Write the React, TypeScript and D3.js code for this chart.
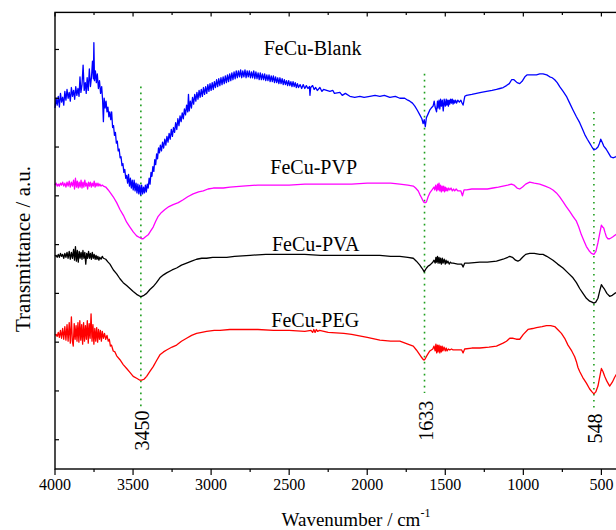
import React from 'react';
import * as d3 from 'd3';

type Pt = [number, number];

// Wavenumber (cm-1), transmittance (a.u., offset traces)
const blank: Pt[] = [[4000,340],[3993,350],[3986,343],[3979,352],[3972,341],[3965,355],[3958,346],[3951,351],[3944,343],[3937,357],[3930,348],[3923,359],[3916,350],[3909,356],[3902,347],[3895,361],[3888,352],[3881,358],[3874,349],[3867,362],[3860,353],[3853,360],[3846,352],[3840,372],[3834,356],[3827,364],[3820,384],[3813,358],[3806,366],[3800,355],[3794,371],[3787,358],[3780,380],[3773,362],[3766,372],[3760,388],[3754,370],[3751,407],[3747,368],[3741,378],[3735,366],[3729,375],[3722,360],[3715,368],[3708,355],[3701,362],[3695,348],[3690,326],[3685,350],[3679,340],[3673,347],[3667,336],[3661,341],[3655,331],[3649,336],[3643,328],[3637,336],[3631,320],[3625,322],[3619,312],[3613,315],[3607,304],[3601,306],[3595,296],[3589,298],[3583,289],[3577,290],[3571,281],[3565,283],[3559,274],[3553,277],[3547,268],[3541,271],[3535,263],[3529,272],[3523,260],[3517,268],[3511,258],[3505,266],[3499,256],[3493,266],[3487,255],[3481,263],[3475,253],[3469,262],[3463,252],[3457,261],[3451,251],[3445,261],[3439,252],[3433,259],[3427,253],[3421,261],[3415,254],[3409,262],[3403,258],[3397,268],[3391,262],[3385,274],[3379,270],[3373,280],[3367,275],[3361,287],[3355,282],[3349,293],[3343,288],[3337,299],[3331,294],[3325,302],[3318,296],[3311,305],[3304,299],[3297,308],[3290,302],[3283,311],[3276,305],[3269,314],[3262,308],[3255,318],[3248,311],[3241,320],[3234,315],[3227,325],[3220,318],[3213,329],[3206,322],[3199,332],[3192,326],[3185,335],[3178,329],[3171,339],[3164,333],[3157,343],[3150,336],[3145,354],[3140,337],[3133,347],[3126,340],[3119,351],[3112,344],[3105,354],[3098,347],[3091,356],[3084,349],[3077,358],[3070,351],[3063,359],[3056,352],[3049,361],[3042,354],[3035,362],[3028,355],[3021,364],[3014,357],[3007,365],[3000,358],[2993,366],[2986,359],[2979,367],[2972,361],[2965,369],[2958,362],[2951,370],[2944,363],[2937,371],[2930,364],[2923,372],[2916,365],[2909,373],[2902,366],[2895,374],[2888,367],[2881,375],[2874,368],[2867,376],[2860,369],[2853,377],[2846,370],[2839,378],[2832,371],[2825,378],[2818,372],[2811,379],[2804,371],[2797,378],[2790,372],[2783,379],[2776,371],[2769,378],[2762,372],[2755,378],[2748,371],[2741,377],[2734,371],[2727,378],[2720,370],[2713,377],[2706,370],[2699,376],[2692,369],[2685,376],[2678,369],[2671,375],[2664,369],[2657,375],[2650,368],[2643,374],[2636,368],[2629,374],[2622,367],[2615,373],[2608,367],[2601,373],[2594,366],[2587,372],[2580,366],[2573,371],[2566,365],[2559,371],[2552,365],[2545,370],[2538,364],[2531,369],[2524,364],[2517,368],[2510,363],[2503,368],[2496,363],[2489,367],[2482,362],[2475,367],[2468,362],[2461,366],[2454,361],[2447,365],[2440,361],[2430,364],[2420,360],[2410,364],[2400,360],[2390,363],[2380,360],[2370,362],[2367,353],[2362,361],[2350,363],[2340,359],[2330,361],[2320,358],[2303,361],[2290,357],[2280,359],[2260,358],[2239,357],[2220,358],[2210,355],[2175,356],[2160,353],[2140,355],[2111,352],[2080,351],[2047,352],[2020,351],[1983,352],[1950,353],[1919,352],[1890,353],[1855,351],[1820,352],[1791,350],[1760,350],[1740,348],[1727,347],[1710,345],[1695,342],[1680,338],[1663,333],[1650,329],[1642,324],[1635,328],[1628,321],[1621,330],[1610,334],[1599,338],[1590,340],[1578,342],[1571,347],[1565,341],[1556,336],[1550,347],[1546,340],[1540,348],[1535,339],[1530,349],[1525,342],[1519,348],[1513,337],[1507,349],[1500,342],[1494,349],[1490,343],[1484,348],[1480,342],[1475,348],[1471,344],[1465,349],[1460,345],[1455,349],[1450,344],[1445,348],[1440,345],[1434,348],[1428,345],[1420,348],[1410,346],[1400,348],[1395,346],[1386,343],[1375,352],[1364,353],[1330,354],[1300,355],[1270,356],[1236,357],[1200,358],[1172,359],[1150,360],[1129,361],[1108,363],[1090,365],[1075,369],[1060,369],[1040,366],[1023,365],[1005,368],[990,372],[975,374],[959,374],[940,374],[916,374],[895,375],[874,375],[850,374],[831,372],[815,371],[799,369],[783,366],[767,362],[745,357],[724,352],[703,345],[682,338],[660,331],[639,325],[620,318],[607,313],[590,308],[575,304],[560,300],[548,297],[535,298],[522,300],[512,304],[504,308],[495,305],[485,301],[470,298],[455,294],[440,290],[426,289],[409,290],[400,291]];

const pvp: Pt[] = [[4000,261],[3993,263],[3986,260],[3979,262],[3972,260],[3965,263],[3958,261],[3951,264],[3944,260],[3937,263],[3930,259],[3923,264],[3916,260],[3909,265],[3902,259],[3895,264],[3888,260],[3881,266],[3875,257],[3869,268],[3863,259],[3857,265],[3851,258],[3845,264],[3839,259],[3833,266],[3827,258],[3821,264],[3815,259],[3809,266],[3803,260],[3797,263],[3791,257],[3785,264],[3779,260],[3773,264],[3767,259],[3761,263],[3755,260],[3749,265],[3743,259],[3737,263],[3731,260],[3725,263],[3719,260],[3713,262],[3705,260],[3697,261],[3690,260],[3675,259],[3659,256],[3645,253],[3627,249],[3605,243],[3584,236],[3562,230],[3541,223],[3520,218],[3499,213],[3477,209],[3456,207],[3445,206],[3435,206],[3420,208],[3403,210],[3387,214],[3371,218],[3355,224],[3339,229],[3318,233],[3296,236],[3270,239],[3243,241],[3210,243],[3179,246],[3150,249],[3115,252],[3080,254],[3050,255],[3020,257],[2986,258],[2950,258],[2922,258],[2879,259],[2800,260],[2700,261],[2591,261],[2500,261],[2400,262],[2300,262],[2200,262],[2100,262],[2000,263],[1919,263],[1850,263],[1791,262],[1740,261],[1705,260],[1690,258],[1673,255],[1662,251],[1652,248],[1643,245],[1635,243],[1627,243],[1620,244],[1610,249],[1599,253],[1585,256],[1572,259],[1567,256],[1561,261],[1555,255],[1549,262],[1545,256],[1540,263],[1535,255],[1530,261],[1525,254],[1520,260],[1515,255],[1510,260],[1505,254],[1500,259],[1495,255],[1490,258],[1485,255],[1478,258],[1471,256],[1463,258],[1455,255],[1447,257],[1440,255],[1430,257],[1420,255],[1400,255],[1390,250],[1380,256],[1364,256],[1330,257],[1279,257],[1230,257],[1194,258],[1160,259],[1130,260],[1100,261],[1076,262],[1060,261],[1040,258],[1023,257],[1005,259],[985,262],[959,264],[930,263],[895,262],[860,260],[831,258],[810,256],[788,253],[767,249],[746,244],[725,239],[703,234],[682,229],[660,224],[645,218],[628,210],[612,204],[596,198],[580,194],[564,191],[548,190],[535,193],[522,202],[510,212],[500,220],[492,218],[485,217],[476,212],[468,208],[458,206],[447,206],[436,207],[426,208],[409,210],[400,211]];

const pva: Pt[] = [[4000,188],[3993,189],[3986,187],[3979,190],[3972,187],[3965,191],[3958,188],[3951,190],[3944,186],[3937,191],[3930,187],[3923,192],[3916,186],[3909,193],[3902,185],[3895,192],[3888,186],[3881,195],[3875,184],[3869,198],[3863,183],[3857,194],[3851,182],[3845,193],[3839,186],[3833,192],[3827,185],[3821,194],[3815,186],[3809,192],[3803,180],[3797,191],[3791,186],[3785,193],[3779,186],[3773,191],[3767,185],[3761,192],[3755,186],[3749,190],[3743,185],[3737,189],[3731,185],[3725,188],[3719,184],[3713,187],[3705,185],[3697,188],[3690,186],[3675,185],[3660,182],[3648,180],[3626,174],[3605,170],[3584,165],[3563,161],[3541,158],[3520,155],[3499,152],[3477,149],[3456,147],[3445,147],[3430,148],[3413,150],[3392,154],[3371,157],[3350,161],[3328,166],[3305,169],[3285,171],[3250,174],[3221,176],[3190,179],[3157,181],[3125,183],[3093,185],[3060,186],[3029,186],[2990,187],[2950,187],[2900,187],[2850,188],[2750,189],[2650,190],[2600,190],[2500,190],[2400,190],[2300,189],[2200,189],[2100,189],[2000,189],[1919,189],[1850,188],[1791,188],[1740,187],[1705,186],[1685,183],[1663,179],[1650,176],[1642,174],[1635,172],[1628,174],[1620,176],[1610,178],[1599,179],[1580,182],[1572,184],[1565,181],[1560,187],[1556,182],[1550,188],[1546,181],[1540,187],[1535,181],[1530,186],[1525,180],[1519,186],[1514,181],[1507,185],[1500,180],[1495,184],[1490,181],[1483,183],[1475,180],[1467,182],[1460,181],[1450,181],[1420,180],[1395,180],[1386,177],[1376,181],[1350,181],[1279,182],[1230,182],[1172,183],[1130,185],[1100,187],[1087,188],[1070,187],[1050,184],[1035,183],[1023,184],[1005,187],[985,190],[959,191],[930,191],[895,190],[874,190],[850,188],[810,184],[780,180],[746,176],[714,171],[682,166],[660,161],[639,155],[618,150],[596,145],[575,142],[560,141],[548,140],[536,141],[522,145],[510,153],[500,159],[492,157],[479,154],[465,150],[447,147],[430,148],[415,150],[400,151]];

const peg: Pt[] = [[4000,107],[3993,108],[3986,106],[3979,110],[3972,105],[3965,112],[3958,104],[3951,114],[3944,103],[3937,116],[3930,102],[3923,118],[3916,101],[3909,120],[3902,99],[3895,126],[3889,101],[3883,96],[3877,119],[3871,103],[3865,117],[3859,101],[3853,120],[3847,100],[3841,122],[3835,102],[3829,118],[3823,98],[3817,120],[3811,101],[3805,117],[3799,103],[3793,122],[3787,99],[3781,119],[3775,104],[3769,129],[3763,101],[3757,118],[3751,98],[3745,114],[3739,101],[3733,115],[3727,100],[3721,113],[3715,103],[3709,112],[3703,101],[3697,111],[3690,104],[3683,109],[3675,103],[3667,107],[3659,101],[3652,103],[3645,96],[3638,97],[3627,91],[3616,90],[3605,86],[3584,82],[3563,77],[3541,73],[3520,69],[3499,65],[3477,63],[3456,61],[3445,61],[3430,62],[3413,65],[3392,70],[3371,75],[3350,81],[3328,87],[3305,90],[3285,92],[3250,95],[3221,97],[3190,101],[3157,104],[3125,107],[3093,109],[3060,110],[3029,111],[2980,112],[2943,112],[2880,113],[2815,113],[2700,113],[2600,112],[2500,112],[2400,111],[2360,112],[2350,110],[2342,113],[2334,110],[2326,113],[2318,111],[2305,112],[2250,110],[2150,109],[2100,108],[2000,105],[1919,102],[1850,101],[1791,101],[1740,98],[1705,96],[1685,92],[1663,87],[1650,84],[1640,82],[1632,82],[1625,84],[1615,87],[1599,91],[1580,93],[1572,96],[1565,91],[1560,98],[1555,89],[1550,97],[1546,90],[1540,97],[1535,89],[1530,96],[1525,90],[1520,96],[1515,91],[1508,95],[1500,91],[1494,94],[1488,91],[1480,93],[1471,92],[1460,93],[1450,92],[1420,92],[1395,92],[1386,89],[1376,93],[1330,94],[1279,94],[1220,95],[1172,96],[1130,99],[1108,101],[1087,104],[1065,104],[1045,103],[1023,103],[1000,108],[970,113],[940,114],[916,115],[880,116],[852,117],[825,117],[799,116],[780,113],[756,109],[735,104],[714,97],[690,91],[671,85],[660,80],[650,74],[639,70],[620,64],[596,58],[575,52],[560,49],[548,47],[536,49],[522,55],[510,65],[500,73],[490,70],[479,65],[465,60],[447,55],[430,59],[415,64],[400,68]];

const seriesNames = ['FeCu-Blank', 'FeCu-PVP', 'FeCu-PVA', 'FeCu-PEG'];
const seriesColors = ['#0000ff', '#ff00ff', '#000000', '#ff0000'];
const seriesData = [blank, pvp, pva, peg];
// label anchor [wavenumber, transmittance]
const seriesLabelPos: Pt[] = [[2350, 394], [2343, 272], [2330, 193], [2333, 116]];

const xMajorTicks = [4000, 3500, 3000, 2500, 2000, 1500, 1000, 500];
const xMinorTicks = [3750, 3250, 2750, 2250, 1750, 1250, 750];
const yTicks = [0, 50, 100, 150, 200, 250, 300, 350, 400];

const peakWn = [3450, 1633, 548];
const peakLabels = ['3450', '1633', '548'];
const peakTop = [362, 375, 336];
const peakBottom = [34, 48, 33];
const peakLabelAt = [30, 40, 27];

export default function App() {
  const x = d3.scaleLinear().domain([4000, 400]).range([55, 617]);
  const y = d3.scaleLinear().domain([-30, 438]).range([469, 12.4]);
  const line = d3.line<Pt>().x(d => x(d[0])).y(d => y(d[1]));
  const font = "'Liberation Serif', 'Times New Roman', serif";
  const [xl, xr] = x.range();
  const [yb, yt] = y.range();

  return (
    <svg width={616} height={530} style={{ position: 'absolute', left: 0, top: 0, background: '#fff' }} fontFamily={font}>
      <rect x={0} y={0} width={616} height={530} fill="#fff" />
      {peakWn.map((w, i) => (
        <line key={'pk' + i} x1={x(w)} x2={x(w)} y1={y(peakTop[i])} y2={y(peakBottom[i])}
          stroke="#1f9f1f" strokeWidth={1.6} strokeDasharray="1.6 4.4" />
      ))}
      {seriesData.map((s, i) => (
        <path key={'s' + i} d={line(s) || ''} fill="none" stroke={seriesColors[i]} strokeWidth={1.3} strokeLinejoin="round" />
      ))}
      <rect x={xl} y={yt} width={xr - xl} height={yb - yt} fill="none" stroke="#000" strokeWidth={1.4} />
      {yTicks.map(t => (
        <line key={'yt' + t} x1={xl} x2={xl + 4} y1={y(t)} y2={y(t)} stroke="#000" strokeWidth={1.2} />
      ))}
      {xMajorTicks.map(t => (
        <g key={'xm' + t}>
          <line x1={x(t)} x2={x(t)} y1={yb} y2={yb + 6} stroke="#000" strokeWidth={1.2} />
          <line x1={x(t)} x2={x(t)} y1={yt} y2={yt + 4} stroke="#000" strokeWidth={1.2} />
          <text x={x(t)} y={yb + 21} fontSize={16} textAnchor="middle" fill="#000">{t}</text>
        </g>
      ))}
      {xMinorTicks.map(t => (
        <g key={'xn' + t}>
          <line x1={x(t)} x2={x(t)} y1={yb} y2={yb + 3} stroke="#000" strokeWidth={1.2} />
          <line x1={x(t)} x2={x(t)} y1={yt} y2={yt + 2.5} stroke="#000" strokeWidth={1.2} />
        </g>
      ))}
      {seriesNames.map((n, i) => (
        <text key={'n' + i} x={x(seriesLabelPos[i][0])} y={y(seriesLabelPos[i][1])} fontSize={20} textAnchor="middle" fill="#000">{n}</text>
      ))}
      {peakLabels.map((l, i) => (
        <text key={'pl' + i} transform={`translate(${x(peakWn[i]) + 8},${y(peakLabelAt[i])}) rotate(-90)`}
          fontSize={20} textAnchor="end" fill="#000">{l}</text>
      ))}
      <text x={356} y={526} fontSize={19} textAnchor="middle" fill="#000">
        Wavenumber / cm<tspan dy={-9} fontSize={12}>-1</tspan>
      </text>
      <text transform={`translate(29.5,249) rotate(-90)`} fontSize={21} textAnchor="middle" fill="#000">Transmittance / a.u.</text>
    </svg>
  );
}
